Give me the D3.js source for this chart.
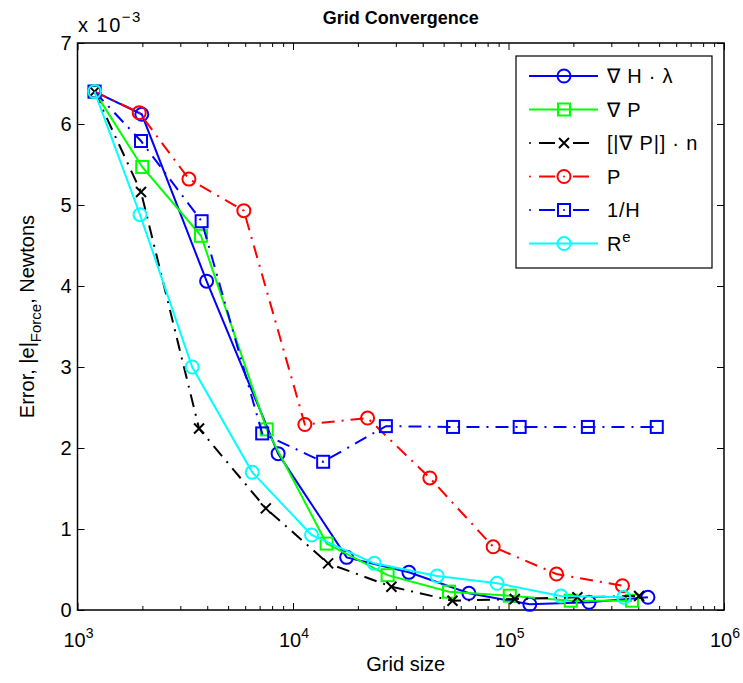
<!DOCTYPE html>
<html><head><meta charset="utf-8">
<script src="https://cdn.jsdelivr.net/npm/d3@7"></script>
<style>body{margin:0;background:#fff}svg{display:block}text{font-family:"Liberation Sans",Arial,sans-serif;fill:#000}</style>
</head><body>
<svg id="c" width="743" height="683"></svg>
<script>
const xTickExps = [3, 4, 5, 6];
const yTicks = [0, 1, 2, 3, 4, 5, 6, 7];
const seriesNames = ["\u2207 H \u00b7 \u03bb", "\u2207 P", "[|\u2207 P|] \u00b7 n", "P", "1/H", "R"];

const gradHLambdaX = [1200, 1988, 3973, 8530, 17740, 34500, 65500, 125600, 236600, 443600];
const gradHLambdaY = [6.4, 6.12, 4.06, 1.93, 0.65, 0.465, 0.206, 0.07, 0.095, 0.157];

const gradPX = [1200, 1997, 3742, 7550, 14320, 27480, 52960, 101400, 194500, 374000];
const gradPY = [6.4, 5.47, 4.62, 2.23, 0.82, 0.43, 0.226, 0.177, 0.115, 0.115];

const jumpGradPX = [1200, 1971, 3665, 7480, 14550, 28620, 54950, 106900, 208800, 403600];
const jumpGradPY = [6.4, 5.16, 2.24, 1.255, 0.576, 0.288, 0.115, 0.136, 0.157, 0.173];

const pX = [1200, 1934, 3289, 5914, 11350, 22180, 43150, 84900, 167000, 337900];
const pY = [6.4, 6.14, 5.32, 4.93, 2.29, 2.37, 1.63, 0.78, 0.444, 0.30];

const invHX = [1200, 1971, 3767, 7195, 13800, 26980, 55300, 112700, 233500, 487600];
const invHY = [6.4, 5.79, 4.80, 2.18, 1.83, 2.27, 2.26, 2.26, 2.26, 2.26];

const reX = [1200, 1950, 3405, 6470, 12190, 23830, 46630, 88500, 174900, 342600];
const reY = [6.4, 4.88, 3.0, 1.70, 0.926, 0.576, 0.42, 0.33, 0.173, 0.157];

const series = [
  {name: seriesNames[0], xs: gradHLambdaX, ys: gradHLambdaY, color: "#0000ff", dash: null, marker: "circle"},
  {name: seriesNames[1], xs: gradPX, ys: gradPY, color: "#00ff00", dash: null, marker: "square"},
  {name: seriesNames[2], xs: jumpGradPX, ys: jumpGradPY, color: "#000000", dash: "13,7,2,7", marker: "x"},
  {name: seriesNames[3], xs: pX, ys: pY, color: "#ff0000", dash: "13,7,2,7", marker: "circle"},
  {name: seriesNames[4], xs: invHX, ys: invHY, color: "#0000ff", dash: "13,7,2,7", marker: "square"},
  {name: seriesNames[5], xs: reX, ys: reY, color: "#00ffff", dash: null, marker: "circle", sup: "e"}
];

const L = 77.5, R = 724, T = 43, B = 610;
const svg = d3.select("#c");
const x = d3.scaleLog().domain([1e3, 1e6]).range([L, R]);
const y = d3.scaleLinear().domain([0, 7]).range([B, T]);

const majors = xTickExps.map(e => Math.pow(10, e));
const minors = [];
for (let e = 3; e < 6; e++) for (let m = 2; m <= 9; m++) minors.push(m * Math.pow(10, e));

function addAxis(axisFn, scale, vals, size, transform) {
  const g = svg.append("g").attr("transform", transform)
    .call(axisFn(scale).tickValues(vals).tickSizeInner(size).tickSizeOuter(0).tickFormat(""));
  g.select(".domain").remove();
  g.selectAll("line").attr("stroke", "#000").attr("stroke-width", 1);
}
addAxis(d3.axisBottom, x, majors, -7, `translate(0,${B})`);
addAxis(d3.axisBottom, x, minors, -4, `translate(0,${B})`);
addAxis(d3.axisTop, x, majors, -7, `translate(0,${T})`);
addAxis(d3.axisTop, x, minors, -4, `translate(0,${T})`);
addAxis(d3.axisLeft, y, yTicks, -7, `translate(${L},0)`);
addAxis(d3.axisRight, y, yTicks, -7, `translate(${R},0)`);

svg.append("rect").attr("x", L).attr("y", T).attr("width", R - L).attr("height", B - T)
  .attr("fill", "none").attr("stroke", "#000").attr("stroke-width", 1.5);

yTicks.forEach(v => {
  svg.append("text").attr("x", L - 6).attr("y", y(v) + 7).attr("text-anchor", "end")
    .attr("font-size", 20).text(v);
});
xTickExps.forEach(e => {
  const t = svg.append("text").attr("x", x(Math.pow(10, e)) + 1).attr("y", 647)
    .attr("text-anchor", "middle").attr("font-size", 20);
  t.append("tspan").text("10");
  t.append("tspan").attr("dy", -9).attr("font-size", 14).text(e);
});
const mt = svg.append("text").attr("x", 78).attr("y", 32).attr("font-size", 20).attr("letter-spacing", 1.5);
mt.append("tspan").text("x 10");
mt.append("tspan").attr("dy", -10).attr("font-size", 15).text("\u22123");

svg.append("text").attr("x", (L + R) / 2).attr("y", 24).attr("text-anchor", "middle")
  .attr("font-size", 18).attr("font-weight", "bold").text("Grid Convergence");
svg.append("text").attr("x", (L + R) / 2 + 5).attr("y", 671).attr("text-anchor", "middle")
  .attr("font-size", 20).text("Grid size");
const yl = svg.append("text").attr("transform", `translate(34,${(T + B) / 2 - 10}) rotate(-90)`)
  .attr("text-anchor", "middle").attr("font-size", 20);
yl.append("tspan").text("Error, |e|");
yl.append("tspan").attr("dy", 7).attr("font-size", 15).text("Force");
yl.append("tspan").attr("dy", -7).text(", Newtons");

function drawMarker(g, type, cx, cy, color) {
  if (type === "circle") {
    g.append("circle").attr("cx", cx).attr("cy", cy).attr("r", 6.5)
      .attr("fill", "none").attr("stroke", color).attr("stroke-width", 2);
  } else if (type === "square") {
    g.append("rect").attr("x", cx - 6).attr("y", cy - 6).attr("width", 12).attr("height", 12)
      .attr("fill", "none").attr("stroke", color).attr("stroke-width", 2);
  } else {
    const s = 5;
    g.append("path").attr("d", `M${cx - s},${cy - s}L${cx + s},${cy + s}M${cx - s},${cy + s}L${cx + s},${cy - s}`)
      .attr("stroke", color).attr("stroke-width", 2);
  }
}

const line = d3.line().x(d => x(d[0])).y(d => y(d[1]));
series.forEach(s => {
  const pts = s.xs.map((v, i) => [v, s.ys[i]]);
  const g = svg.append("g");
  g.append("path").attr("d", line(pts)).attr("fill", "none").attr("stroke", s.color)
    .attr("stroke-width", 2).attr("stroke-dasharray", s.dash);
  pts.forEach(p => drawMarker(g, s.marker, x(p[0]), y(p[1]), s.color));
});

const lg = svg.append("g");
lg.append("rect").attr("x", 516).attr("y", 56).attr("width", 196).attr("height", 212)
  .attr("fill", "#fff").attr("stroke", "#000").attr("stroke-width", 1.2);
series.forEach((s, i) => {
  const cy = 76 + i * 33.5;
  if (s.dash) {
    lg.append("circle").attr("cx", 530).attr("cy", cy).attr("r", 1).attr("fill", s.color);
    lg.append("line").attr("x1", 539).attr("x2", 555).attr("y1", cy).attr("y2", cy).attr("stroke", s.color).attr("stroke-width", 2);
    lg.append("line").attr("x1", 573).attr("x2", 589).attr("y1", cy).attr("y2", cy).attr("stroke", s.color).attr("stroke-width", 2);
    if (s.marker !== "x") lg.append("circle").attr("cx", 564).attr("cy", cy).attr("r", 1).attr("fill", s.color);
  } else {
    lg.append("line").attr("x1", 529).attr("x2", 598).attr("y1", cy).attr("y2", cy).attr("stroke", s.color).attr("stroke-width", 2);
  }
  drawMarker(lg, s.marker, 564, cy, s.color);
  const t = lg.append("text").attr("x", 607).attr("y", cy + 7).attr("font-size", 20).attr("letter-spacing", 0.8);
  t.append("tspan").text(s.name);
  if (s.sup) t.append("tspan").attr("dy", -9).attr("font-size", 15).text(s.sup);
});
</script>
</body></html>
